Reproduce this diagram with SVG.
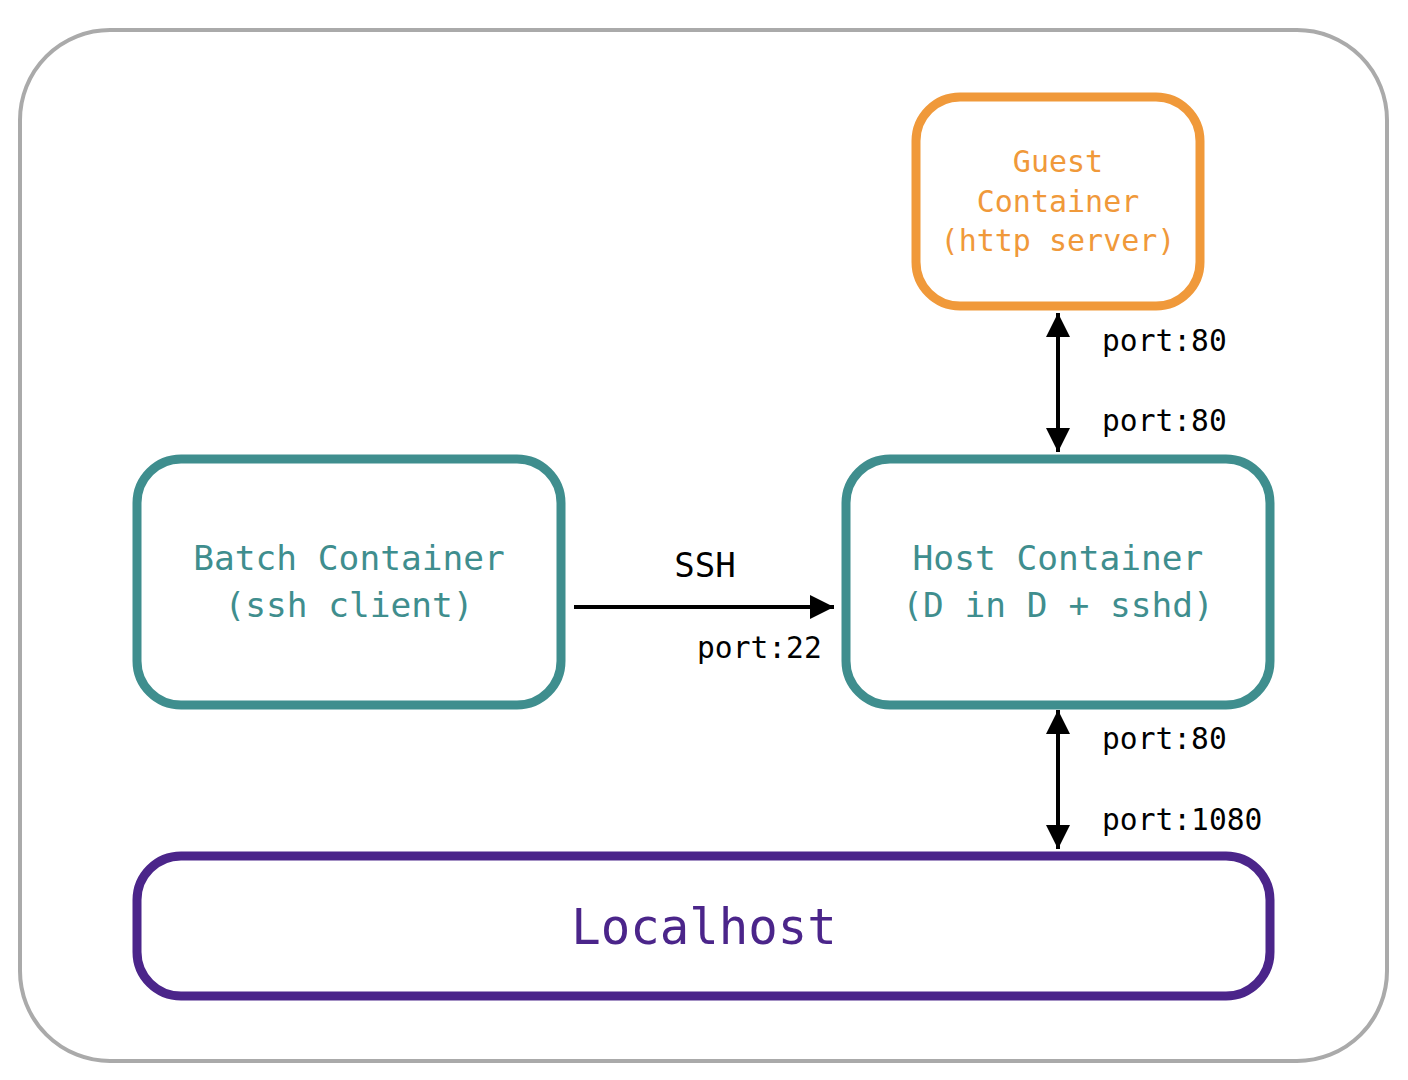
<svg xmlns="http://www.w3.org/2000/svg" width="1408" height="1080" viewBox="0 0 1408 1080">
<defs>
<marker id="ah" viewBox="0 0 24 24" refX="24" refY="12" markerWidth="24" markerHeight="24" markerUnits="userSpaceOnUse" orient="auto-start-reverse">
<path d="M0,0 L24,12 L0,24 Z" fill="#000"/>
</marker>
<style>
.box{fill:#fff;stroke-width:9}
.teal{stroke:#3F8E8E}
.t{font-family:"DejaVu Sans Mono","Liberation Mono",monospace;text-anchor:middle}
.lbl{font-family:"DejaVu Sans Mono","Liberation Mono",monospace;font-size:29.6px;fill:#000}
.conn{stroke:#000;stroke-width:4;fill:none}
</style>
</defs>
<rect x="20" y="30" width="1367" height="1031" rx="90" ry="90" fill="#fff" stroke="#aaaaaa" stroke-width="4"/>
<g id="guest">
<rect class="box" x="916" y="97" width="284" height="209" rx="44" stroke="#F0993A"/>
<text class="t" font-size="30" fill="#F0993A"><tspan x="1058" y="172">Guest</tspan><tspan x="1058" y="212">Container</tspan><tspan x="1058" y="251">(http server)</tspan></text>
</g>
<g id="batch">
<rect class="box teal" x="137" y="459" width="424" height="246" rx="44"/>
<text class="t" font-size="34.5" fill="#3F8E8E"><tspan x="349" y="570">Batch Container</tspan><tspan x="349" y="617">(ssh client)</tspan></text>
</g>
<g id="host">
<rect class="box teal" x="846" y="459" width="424" height="246" rx="44"/>
<text class="t" font-size="34.5" fill="#3F8E8E"><tspan x="1058" y="570">Host Container</tspan><tspan x="1058" y="617">(D in D + sshd)</tspan></text>
</g>
<g id="localhost">
<rect class="box" x="137" y="856" width="1133" height="140" rx="44" stroke="#4B258A"/>
<text class="t" x="704" y="944" font-size="49" fill="#4B258A">Localhost</text>
</g>
<g id="connectors">
<line class="conn" x1="574" y1="607" x2="834" y2="607" marker-end="url(#ah)"/>
<line class="conn" x1="1058" y1="313" x2="1058" y2="452" marker-start="url(#ah)" marker-end="url(#ah)"/>
<line class="conn" x1="1058" y1="710" x2="1058" y2="849" marker-start="url(#ah)" marker-end="url(#ah)"/>
<text class="t" x="705" y="577" font-size="34" fill="#000">SSH</text>
<text class="lbl" x="697" y="658">port:22</text>
<text class="lbl" x="1102" y="351">port:80</text>
<text class="lbl" x="1102" y="431">port:80</text>
<text class="lbl" x="1102" y="749">port:80</text>
<text class="lbl" x="1102" y="830">port:1080</text>
</g>
</svg>
